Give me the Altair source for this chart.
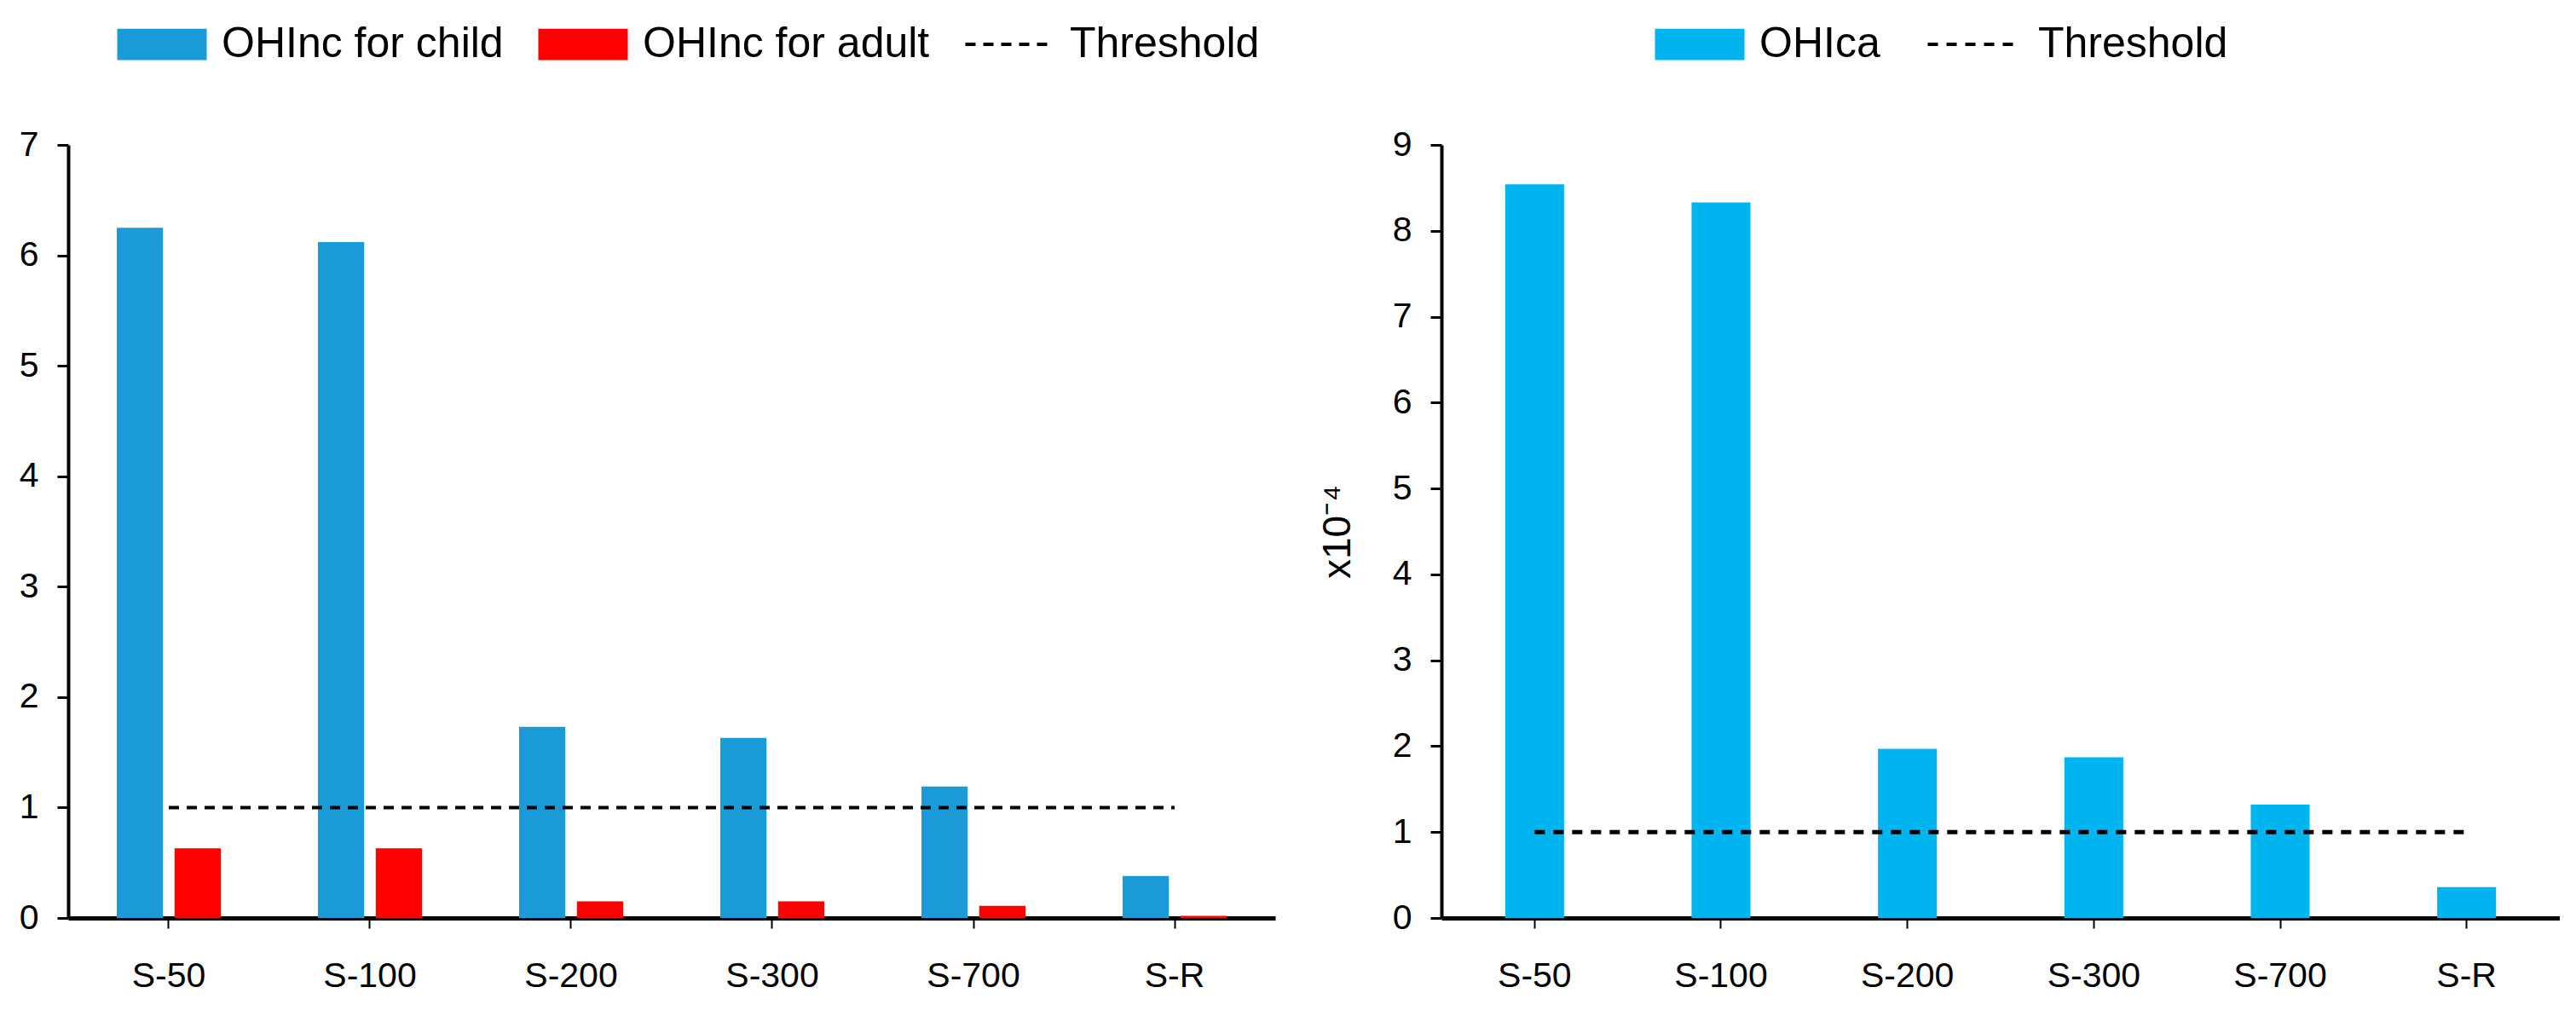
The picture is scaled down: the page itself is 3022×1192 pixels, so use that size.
import altair as alt
import pandas as pd

categories = ["S-50", "S-100", "S-200", "S-300", "S-700", "S-R"]
child_values = [6.25, 6.12, 1.73, 1.63, 1.19, 0.38]
adult_values = [0.63, 0.63, 0.15, 0.15, 0.11, 0.02]
ohica_values = [8.54, 8.33, 1.97, 1.87, 1.32, 0.36]
threshold_left = 1
threshold_right = 1
left_series = ["OHInc for child", "OHInc for adult"]
right_series = ["OHIca"]

FONT = "Liberation Sans"

left_df = pd.DataFrame(
    [{"cat": c, "series": left_series[0], "value": v} for c, v in zip(categories, child_values)]
    + [{"cat": c, "series": left_series[1], "value": v} for c, v in zip(categories, adult_values)]
)
right_df = pd.DataFrame({"cat": categories, "series": right_series[0], "value": ohica_values})
thr_left_df = pd.DataFrame({"cat": [categories[0], categories[-1]], "value": [threshold_left] * 2, "label": "Threshold"})
thr_right_df = pd.DataFrame({"cat": [categories[0], categories[-1]], "value": [threshold_right] * 2, "label": "Threshold"})

# legend symbols: wide swatch / dashed stroke, drawn 3x wider than their layout box
rect_path = "M-3,-1.05H3V1.05H-3Z"
line_path = "M-3,0H3"
SYM = 1225
LEG_Y = -143

x_axis = alt.Axis(title=None, labelAngle=0, domainWidth=5, tickSize=12, tickWidth=2,
                  labelPadding=36, labelFontSize=41)

def y_axis(maxv, title=None, **kw):
    return alt.Axis(values=list(range(0, maxv + 1)), format="d", grid=False, domainWidth=4,
                    tickSize=13, tickWidth=3, labelPadding=22, labelFontSize=41,
                    title=title, **kw)

leg_common = dict(title=None, orient="none", labelFontSize=50, labelFont=FONT, labelLimit=2000)

# Left panel
left_bars = alt.Chart(left_df).mark_bar().encode(
    x=alt.X("cat:N", sort=categories, axis=x_axis,
            scale=alt.Scale(paddingInner=0.483, paddingOuter=0.2415)),
    xOffset=alt.XOffset("series:N", sort=left_series,
                        scale=alt.Scale(paddingInner=0.2, paddingOuter=0)),
    y=alt.Y("value:Q", scale=alt.Scale(domain=[0, 7], nice=False), axis=y_axis(7)),
    color=alt.Color("series:N", sort=left_series,
                    scale=alt.Scale(domain=left_series, range=["#1a9bd8", "#ff0000"]),
                    legend=alt.Legend(direction="horizontal", legendX=85, legendY=LEG_Y,
                                      symbolType=rect_path, symbolSize=SYM, symbolStrokeWidth=0,
                                      labelOffset=45, columnPadding=40, **leg_common)),
)
left_thr = alt.Chart(thr_left_df).mark_line(color="black", strokeWidth=4).encode(
    x=alt.X("cat:N", sort=categories),
    y=alt.Y("value:Q"),
    strokeDash=alt.StrokeDash("label:N", scale=alt.Scale(domain=["Threshold"], range=[[12, 9]]),
                              legend=alt.Legend(legendX=1080, legendY=LEG_Y,
                                                symbolType=line_path, symbolSize=SYM,
                                                symbolStrokeWidth=4, symbolStrokeColor="black",
                                                symbolFillColor="transparent",
                                                symbolDash=[14, 8], labelOffset=45, **leg_common)),
)
left = alt.layer(left_bars, left_thr).properties(width=1416, height=907)

# Right panel
right_bars = alt.Chart(right_df).mark_bar(color="#00b4f0").encode(
    x=alt.X("cat:N", sort=categories, axis=x_axis,
            scale=alt.Scale(paddingInner=0.684, paddingOuter=0.342)),
    y=alt.Y("value:Q", scale=alt.Scale(domain=[0, 9], nice=False),
            axis=y_axis(9, title="x10⁻⁴", titleFontSize=46, titleFontWeight="normal",
                        titlePadding=40, titleFont=FONT)),
    color=alt.Color("series:N",
                    scale=alt.Scale(domain=right_series, range=["#00b4f0"]),
                    legend=alt.Legend(direction="horizontal", legendX=278, legendY=LEG_Y,
                                      symbolType=rect_path, symbolSize=SYM, symbolStrokeWidth=0,
                                      labelOffset=45, **leg_common)),
)
right_thr = alt.Chart(thr_right_df).mark_line(color="black", strokeWidth=5).encode(
    x=alt.X("cat:N", sort=categories),
    y=alt.Y("value:Q"),
    strokeDash=alt.StrokeDash("label:N", scale=alt.Scale(domain=["Threshold"], range=[[12, 10]]),
                              legend=alt.Legend(legendX=598, legendY=LEG_Y,
                                                symbolType=line_path, symbolSize=SYM,
                                                symbolStrokeWidth=4, symbolStrokeColor="black",
                                                symbolFillColor="transparent",
                                                symbolDash=[14, 8], labelOffset=52, **leg_common)),
)
right = alt.layer(right_bars, right_thr).properties(width=1312, height=907)

chart = alt.hconcat(left, right, spacing=50).resolve_scale(
    color="independent", strokeDash="independent", x="independent", y="independent"
).properties(
    padding={"left": 14, "top": 19, "right": 0, "bottom": 0}
).configure(font=FONT).configure_view(stroke=None).configure_axis(
    labelColor="black", domainColor="black", tickColor="black", titleColor="black",
    labelFont=FONT
).configure_legend(labelColor="black")

chart.save("out.html", embed_options={"renderer": "svg", "actions": False})
